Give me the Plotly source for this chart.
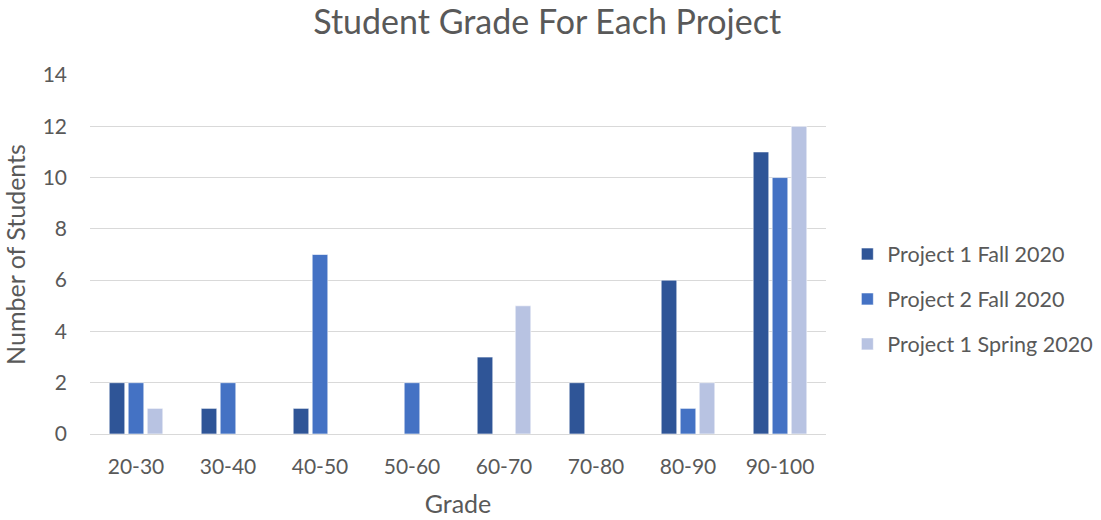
import plotly.graph_objects as go

grades = ["20-30", "30-40", "40-50", "50-60", "60-70", "70-80", "80-90", "90-100"]
p1_fall = [2, 1, 1, 0, 3, 2, 6, 11]
p2_fall = [2, 2, 7, 2, 0, 0, 1, 10]
p1_spring = [1, 0, 0, 0, 5, 0, 2, 12]

series = [
    ("Project 1 Fall 2020", p1_fall, "#2F5597"),
    ("Project 2 Fall 2020", p2_fall, "#4472C4"),
    ("Project 1 Spring 2020", p1_spring, "#B8C3E2"),
]

font_family = "Lato, Open Sans, sans-serif"
grey = "#595959"

fig = go.Figure()
for i, (name, vals, color) in enumerate(series):
    fig.add_trace(go.Bar(
        x=grades, y=vals, name=name, legendgroup=f"g{i}",
        marker=dict(color=color, line=dict(color="white", width=0.6)),
    ))

fig.update_layout(
    width=1101, height=520,
    margin=dict(l=90, r=275, t=75, b=86, autoexpand=False),
    paper_bgcolor="white", plot_bgcolor="white",
    barmode="group", bargap=0.38, bargroupgap=0.18,
    font=dict(family=font_family, color=grey, size=21),
    title=dict(text="Student Grade For Each Project", x=0.497, xanchor="center",
               y=0.958, yanchor="middle", font=dict(size=34, color=grey)),
    legend=dict(x=1.029, y=0.376, xanchor="left", yanchor="middle",
                font=dict(size=21.5, color=grey), tracegroupgap=14,
                bgcolor="rgba(0,0,0,0)"),
    xaxis=dict(title=dict(text="Grade", font=dict(size=25, color=grey), standoff=18),
               showline=True, linecolor="#d9d9d9", linewidth=1,
               tickfont=dict(size=21, color=grey), ticks="", showgrid=False,
               ticklabelstandoff=14),
    yaxis=dict(title=dict(text="Number of Students", font=dict(size=25, color=grey), standoff=13),
               range=[0, 14], dtick=2, showgrid=True, gridcolor="#d9d9d9", gridwidth=1,
               zeroline=False, tickfont=dict(size=21, color=grey), ticks="",
               ticklabelstandoff=22),
)

fig.write_html("out.html")
